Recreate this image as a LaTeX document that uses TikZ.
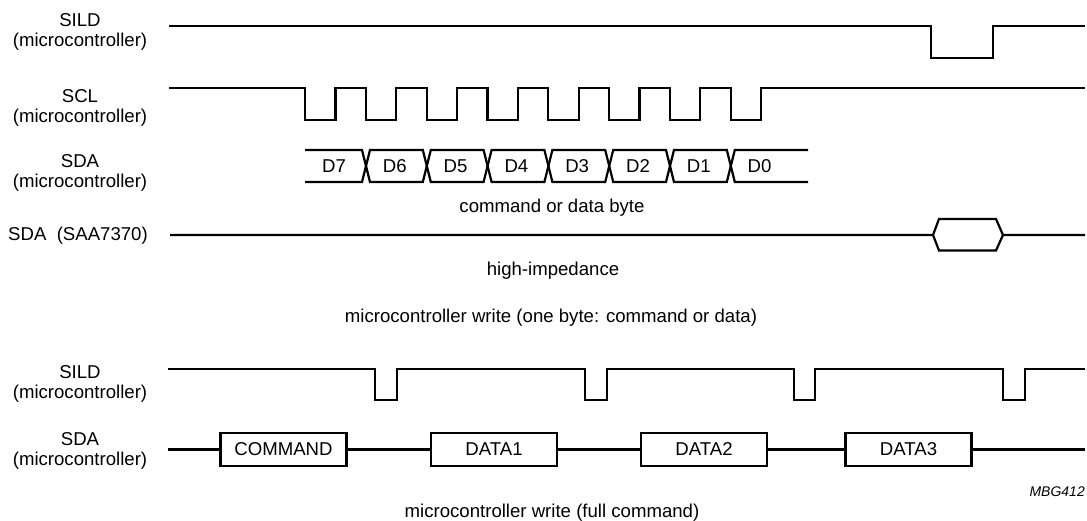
\documentclass[tikz,border=0pt]{standalone}
\usepackage{fontspec}
\setmainfont{Liberation Sans}
\begin{document}
\begin{tikzpicture}[x=1pt,y=-1pt,
  sig/.style={line width=2.2pt, line join=miter},
  lbl/.style={align=center, inner sep=0pt, font=\fontsize{18.6}{20}\selectfont},
  txt/.style={inner sep=0pt, font=\fontsize{18.6}{20}\selectfont},
  box/.style={draw, line width=2.2pt, inner sep=0pt, minimum width=126pt, minimum height=33pt, font=\fontsize{18.6}{20}\selectfont},
  tag/.style={inner sep=0pt, font=\fontsize{14}{16}\selectfont\itshape}]
\useasboundingbox (0,0) rectangle (1087,521);

% ---------- left labels ----------
\node[lbl] (l1) at (80,32) {SILD\\(microcontroller)};
\node[lbl] (l2) at (80,108) {SCL\\(microcontroller)};
\node[lbl] (l3) at (80,172.5) {SDA\\(microcontroller)};
\node[txt, anchor=west] (l4) at (8,236) {SDA~~(SAA7370)};
\node[lbl] (l5) at (80,384) {SILD\\(microcontroller)};
\node[lbl] (l6) at (80,450.5) {SDA\\(microcontroller)};

% ---------- SILD (top) ----------
\draw[sig] (169,26) -- (931,26) -- (931,58) -- (993,58) -- (993,26) -- (1085,26);

% ---------- SCL ----------
\draw[sig] (169,88) foreach \k in {0,...,7} {
  -- ({305+60.8*\k},88) -- ({305+60.8*\k},120) -- ({335.4+60.8*\k},120) -- ({335.4+60.8*\k},88) }
  -- (1085,88);

% ---------- SDA (microcontroller) data bits ----------
\draw[sig] (305,150) -- (362,150) -- (370,182) -- (422.8,182) -- (430.8,150) -- (483.6,150) -- (491.6,182) -- (544.4,182) -- (552.4,150) -- (605.2,150) -- (613.2,182) -- (666,182) -- (674,150) -- (726.8,150) -- (734.8,182) -- (808,182);
\draw[sig] (305,182) -- (362,182) -- (370,150) -- (422.8,150) -- (430.8,182) -- (483.6,182) -- (491.6,150) -- (544.4,150) -- (552.4,182) -- (605.2,182) -- (613.2,150) -- (666,150) -- (674,182) -- (726.8,182) -- (734.8,150) -- (808,150);
\foreach \b [count=\i from 0] in {7,6,5,4,3,2,1,0}
  \node[txt] (bit\b) at ({334+60.8*\i},166) {D\b};

\node[txt] (cap1) at (552,208) {command or data byte};

% ---------- SDA (SAA7370) ----------
\draw[sig] (170,235) -- (933,235) -- (939,219) -- (996,219) -- (1003,235) -- (1085,235);
\draw[sig] (933,235) -- (939,250.5) -- (996,250.5) -- (1003,235);

\node[txt] (cap2) at (553,270.5) {high-impedance};
\node[txt] (cap3) at (551,318) {microcontroller write (one byte: command or data)};

% ---------- SILD (bottom) ----------
\draw[sig] (168,369) -- (375,369) -- (375,400) -- (397,400) -- (397,369)
  -- (585,369) -- (585,400) -- (607,400) -- (607,369)
  -- (794,369) -- (794,400) -- (815,400) -- (815,369)
  -- (1003,369) -- (1003,400) -- (1025,400) -- (1025,369) -- (1085,369);

% ---------- SDA (bottom) ----------
\node[box] (cmd) at (283.5,449.5) {COMMAND};
\node[box] (da1) at (494,449.5) {DATA1};
\node[box] (da2) at (704,449.5) {DATA2};
\node[box] (da3) at (908.5,449.5) {DATA3};
\coordinate (sdaL) at (168,449.5);
\coordinate (sdaR) at (1085,449.5);
\draw[sig] (sdaL) -- (cmd.west);
\draw[sig] (cmd.east) -- (da1.west);
\draw[sig] (da1.east) -- (da2.west);
\draw[sig] (da2.east) -- (da3.west);
\draw[sig] (da3.east) -- (sdaR);

\node[tag, anchor=east] (mbg) at (1085,492) {MBG412};
\node[txt] (cap4) at (552,512.5) {microcontroller write (full command)};
\end{tikzpicture}
\end{document}
